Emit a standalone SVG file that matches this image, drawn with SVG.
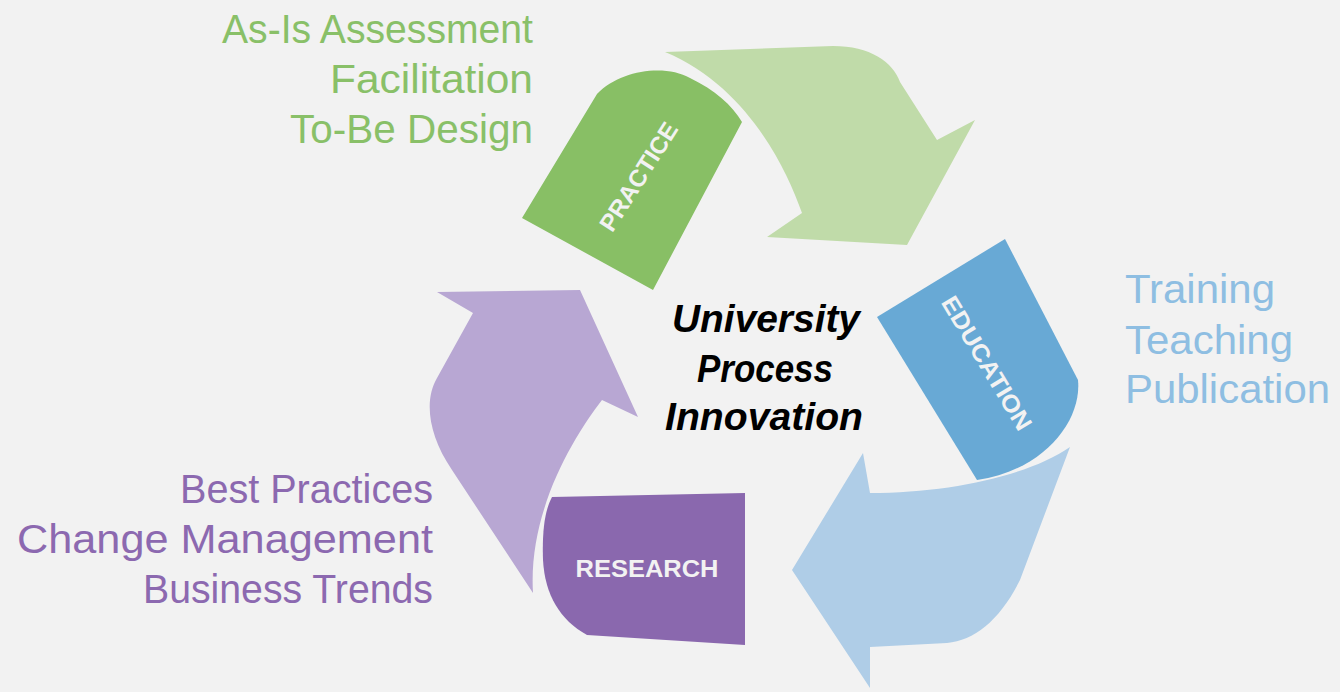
<svg xmlns="http://www.w3.org/2000/svg" width="1340" height="692" viewBox="0 0 1340 692">
<style>
.side{font-family:"Liberation Sans",Arial,sans-serif;font-size:41px}
.lab{font-family:"Liberation Sans",Arial,sans-serif;font-size:24px;font-weight:bold;fill:#f2f2f2}
.ctr{font-family:"Liberation Sans",Arial,sans-serif;font-size:38px;font-weight:bold;font-style:italic;fill:#000;text-anchor:middle}
</style>
<rect width="1340" height="692" fill="#f2f2f2"/>
<g id="practice-text" class="side" fill="#89c068" text-anchor="end">
<text x="533" y="43" textLength="311" lengthAdjust="spacingAndGlyphs">As-Is Assessment</text>
<text x="533" y="93" textLength="203" lengthAdjust="spacingAndGlyphs">Facilitation</text>
<text x="533" y="143" textLength="243" lengthAdjust="spacingAndGlyphs">To-Be Design</text>
</g>
<g id="education-text" class="side" fill="#8ebee2">
<text x="1125" y="303" textLength="150" lengthAdjust="spacingAndGlyphs">Training</text>
<text x="1125" y="354" textLength="168" lengthAdjust="spacingAndGlyphs">Teaching</text>
<text x="1125" y="403" textLength="205" lengthAdjust="spacingAndGlyphs">Publication</text>
</g>
<g id="research-text" class="side" fill="#8c69b0" text-anchor="end">
<text x="433" y="503" textLength="253" lengthAdjust="spacingAndGlyphs">Best Practices</text>
<text x="433" y="553" textLength="416" lengthAdjust="spacingAndGlyphs">Change Management</text>
<text x="433" y="603" textLength="290" lengthAdjust="spacingAndGlyphs">Business Trends</text>
</g>
<g id="connectors">
<path id="arrow-practice-education" fill="#c0dba9" d="M665,52 L833,46 C870,46 893,62 900,82 L937,140 L975,120 L907,245 L767,237 L802,213 C785,165 745,85 665,52 Z"/>
<path id="arrow-education-research" fill="#afcde7" d="M863,453 L870,493 C950,493 1030,475 1070,447 L1020,580 C1000,620 975,640 947,643 L870,647 L870,688 L792,570 Z"/>
<path id="arrow-research-practice" fill="#b8a7d3" d="M437,292 L580,290 L638,417 L602,400 C575,435 528,510 533,593 L452,470 C428,435 424,400 437,378 L473,313 Z"/>
</g>
<g id="practice">
<path fill="#88bf65" d="M522,218 L597,94 C620,70 665,64 690,78 C715,90 732,105 742,122 L653,290 Z"/>
<text class="lab" transform="translate(638.5,176.5) rotate(-57.5)" x="0" y="8.5" text-anchor="middle" textLength="124" lengthAdjust="spacingAndGlyphs">PRACTICE</text>
</g>
<g id="education">
<path fill="#68a9d5" d="M877,317 L1005,239 L1078,380 C1082,420 1045,470 977,480 Z"/>
<text class="lab" transform="translate(987,363) rotate(59)" x="0" y="8.5" text-anchor="middle" textLength="152" lengthAdjust="spacingAndGlyphs">EDUCATION</text>
</g>
<g id="research">
<path fill="#8a68ae" d="M552,497 L745,493 L745,645 L587,635 C560,620 545,595 543,560 C542,530 545,510 552,497 Z"/>
<text class="lab" x="647" y="577" text-anchor="middle" textLength="143" lengthAdjust="spacingAndGlyphs">RESEARCH</text>
</g>
<g id="center">
<text class="ctr" x="766" y="332" textLength="188" lengthAdjust="spacingAndGlyphs">University</text>
<text class="ctr" x="765" y="382" textLength="136" lengthAdjust="spacingAndGlyphs">Process</text>
<text class="ctr" x="764" y="430" textLength="198" lengthAdjust="spacingAndGlyphs">Innovation</text>
</g>
</svg>
